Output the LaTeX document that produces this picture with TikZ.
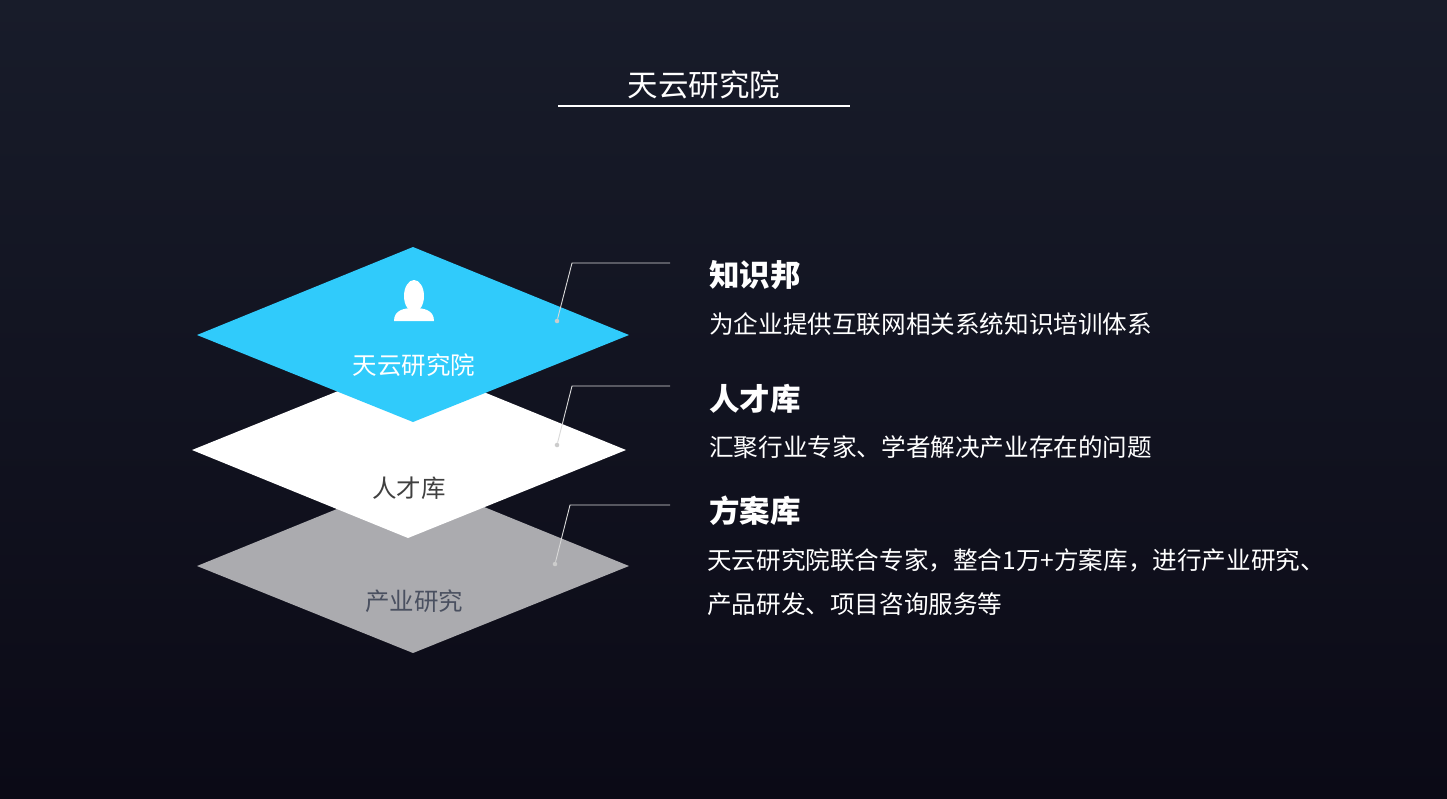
\documentclass[tikz,border=0pt]{standalone}
\usepackage{fontspec}
\setmainfont{Noto Sans CJK SC}
\begin{document}
\begin{tikzpicture}[x=1pt,y=-1pt,
  lead/.style={draw=gray!30!white,line width=0.9pt},
  dot/.style={circle,fill=gray!40!white,inner sep=1.6pt},
  head/.style={anchor=west,text=white,font=\fontsize{30.5}{32}\selectfont\bfseries,inner sep=0pt},
  desc/.style={anchor=west,text=white,font=\fontsize{24.6}{26}\selectfont,inner sep=0pt},
  lbl/.style={font=\fontsize{24.5}{26}\selectfont,inner sep=0pt}]
\definecolor{bgtop}{HTML}{181C2A}\definecolor{bgbot}{HTML}{0B0A16}
\definecolor{cyanl}{HTML}{30CBFB}\definecolor{grayl}{HTML}{ABABAF}
\definecolor{lbl3}{HTML}{4A5060}
\shade[top color=bgtop,bottom color=bgbot] (0,0) rectangle (1447,798);
\useasboundingbox (0,0) rectangle (1447,798);
\node[text=white,font=\fontsize{30.5}{32}\selectfont,inner sep=0pt] (title) at (704,85) {天云研究院};
\draw[white,line width=1.5pt] (558,106) coordinate (ul) -- (850,106) coordinate (ur);
% layers
\fill[grayl] (413,478) -- (629,566) -- (413,653) -- (197,566) -- cycle;
\fill[white] (410,362) -- (626,450) -- (408,538) -- (192,450) -- cycle;
\fill[cyanl] (413,247) -- (629,335) -- (413,422) -- (197,335) -- cycle;
% icon
\fill[white] (414,296) ellipse (10 and 16);
\fill[white] (394,321) .. controls (394,310) and (404,308) .. (414,308) .. controls (424,308) and (434,310) .. (434,321) -- cycle;
\node[lbl,text=white] (l1) at (414,365) {天云研究院};
\node[lbl,text=black!75] (l2) at (409,488) {人才库};
\node[lbl,text=lbl3] (l3) at (414,601) {产业研究};
% leaders
\node[dot] (d1) at (557,321) {};
\node[dot] (d2) at (557,445) {};
\node[dot] (d3) at (555,564) {};
\coordinate (e1) at (670,263); \coordinate (e2) at (670,386); \coordinate (e3) at (670,505);
\draw[lead] (d1) -- (572,263) -- (e1);
\draw[lead] (d2) -- (572,386) -- (e2);
\draw[lead] (d3) -- (570,505) -- (e3);
% texts
\node[head] (h1) at (709,275) {知识邦};
\node[desc] (t1) at (709,324) {为企业提供互联网相关系统知识培训体系};
\node[head] (h2) at (709,399) {人才库};
\node[desc] (t2) at (709,447) {汇聚行业专家、学者解决产业存在的问题};
\node[head] (h3) at (709,511) {方案库};
\node[desc] (t3) at (707,560) {天云研究院联合专家，整合1万+方案库，进行产业研究、};
\node[desc] (t4) at (707,604) {产品研发、项目咨询服务等};
\end{tikzpicture}
\end{document}
